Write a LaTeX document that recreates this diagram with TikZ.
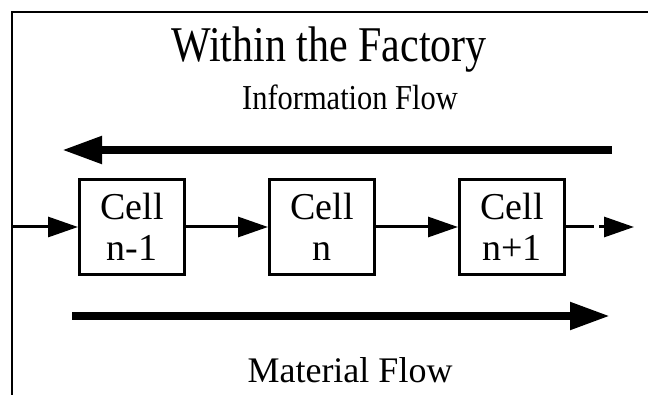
\documentclass[tikz,border=0pt]{standalone}
\usepackage{fontspec}
\setmainfont{Liberation Serif}
\usetikzlibrary{positioning}
\usetikzlibrary {arrows.meta}
\tikzset{cellbox/.style={rectangle,draw=black,line width=3pt,fill=white,
inner sep=0pt,minimum height=95pt, minimum width=105pt,align=center,
font=\fontsize{38}{41}\selectfont}}
\tikzset{flowarrow/.style={line width=8pt,-{Triangle[length=40pt,width=26pt]}}}
\tikzset{cellarrow/.style={line width=3pt,-{Triangle[length=30pt,width=20pt]}}}

\begin{document}
\begin{tikzpicture}[x=1pt,y=-1pt]
        \useasboundingbox (0,0) rectangle (648,395);
        % frame
        \draw [line width=2pt] (648,12) -- (12,12) -- (12,395);

        \node[anchor=base,font=\fontsize{50}{56}\selectfont] (title) at (329,62) {\scalebox{0.84}[1]{Within the Factory}};
        \node[anchor=base,font=\fontsize{35}{38}\selectfont] (infolabel) at (350,110) {\scalebox{0.87}[1]{Information Flow}};
        \node[anchor=base,font=\fontsize{36}{40}\selectfont] (matlabel) at (350,382) {Material Flow};

        \node[cellbox] (cellA) at (132,227) {Cell\\n-1};
        \node[cellbox] (cellB) [right=82pt of cellA] {Cell\\n};
        \node[cellbox] (cellC) [right=82pt of cellB] {Cell\\n+1};

        \coordinate (inflow) at (12,227);
        \coordinate (outflow) at (634,227);
        \draw [cellarrow] (inflow) -- (cellA);
        \draw [cellarrow] (cellA) -- (cellB);
        \draw [cellarrow] (cellB) -- (cellC);
        \draw [cellarrow,dash pattern=on 28pt off 5pt] (cellC) -- (outflow);

        \coordinate (infoS) at (612,150);
        \coordinate (infoE) at (62,150);
        \draw [flowarrow] (infoS) -- (infoE);

        \coordinate (matS) at (72,316);
        \coordinate (matE) at (610,316);
        \draw [flowarrow] (matS) -- (matE);
    \end{tikzpicture}
\end{document}
